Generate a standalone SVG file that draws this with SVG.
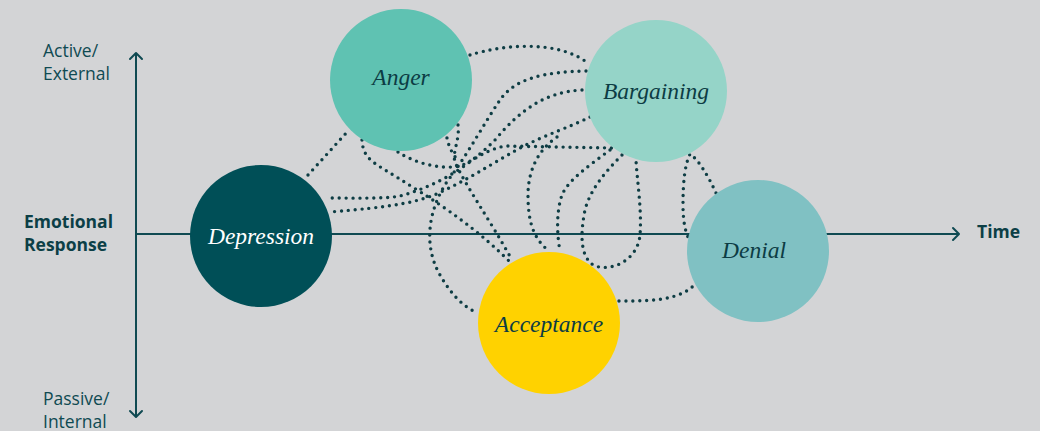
<svg xmlns="http://www.w3.org/2000/svg" width="1040" height="431" viewBox="0 0 1040 431">
  <style>
    .axis { fill: none; stroke: #0f4a52; stroke-width: 2; }
    .head { fill: none; stroke: #0f4a52; stroke-width: 2; stroke-linecap: round; stroke-linejoin: round; }
    .lbl { font-family: "Open Sans", "Liberation Sans", sans-serif; font-size: 17.5px; fill: #0f4a52; }
    .lbl-b { font-family: "Open Sans", "Liberation Sans", sans-serif; font-size: 17.5px; font-weight: 700; fill: #0c3f46; }
    .path { fill: none; stroke: #0e3d44; stroke-width: 3.4; stroke-linecap: round; stroke-dasharray: 0 6.9; }
    .name { font-family: "Liberation Serif", "DejaVu Serif", serif; font-style: italic; font-size: 23.5px; fill: #0c3c44; text-anchor: middle; }
  </style>

  <rect x="0" y="0" width="1040" height="431" fill="#d3d4d6"/>

  <!-- axes -->
  <g id="axes">
    <line class="axis" x1="136" y1="53" x2="136" y2="417"/>
    <polyline class="head" points="130,59 136,53 142,59"/>
    <polyline class="head" points="130,411 136,417 142,411"/>
    <line class="axis" x1="136" y1="234" x2="959" y2="234"/>
    <polyline class="head" points="953,228 959,234 953,240"/>
  </g>

  <g id="axis-labels">
    <text class="lbl" x="43" y="57">Active/</text>
    <text class="lbl" x="43" y="80">External</text>
    <text class="lbl-b" x="24" y="228">Emotional</text>
    <text class="lbl-b" x="24" y="251">Response</text>
    <text class="lbl" x="43" y="405">Passive/</text>
    <text class="lbl" x="43" y="428">Internal</text>
    <text class="lbl-b" x="977" y="238">Time</text>
  </g>

  <!-- dotted transitions between stages -->
  <g id="connectors">
    <path class="path" d="M470,55 C505,44 560,40 589,64"/>
    <path class="path" d="M586,71 C545,72 515,78 500,100 C485,122 470,150 452,175 C432,200 420,240 440,275 C452,296 465,308 478,313"/>
    <path class="path" d="M582,90 C545,92 520,110 495,140 C470,165 440,185 400,196 C385,199 350,198 326,198"/>
    <path class="path" d="M590,117 C570,127 545,135 520,148 C490,165 470,178 445,190 C420,203 390,207 330,212"/>
    <path class="path" d="M557,137 C535,152 528,175 528,195 C528,225 535,240 549,251"/>
    <path class="path" d="M362,140 C363,158 372,162 395,176 C430,198 470,222 510,262"/>
    <path class="path" d="M398,152 C415,163 440,170 460,166 C475,160 485,150 505,146 L613,148"/>
    <path class="path" d="M458,125 C460,140 452,152 455,162 C465,185 490,220 512,260"/>
    <path class="path" d="M446,131 C447,142 450,150 456,158"/>
    <path class="path" d="M610,150 C590,165 568,180 562,195 C556,212 557,235 560,251"/>
    <path class="path" d="M622,155 C605,172 590,190 585,210 C580,235 580,258 595,266 C615,272 638,258 640,235 C642,210 637,180 636,160"/>
    <path class="path" d="M716,193 C708,175 697,158 690,154 C685,165 683,180 683,205 C683,220 685,230 688,237"/>
    <path class="path" d="M619,301 C640,301 660,301 675,296 C685,293 692,288 696,283"/>
    <path class="path" d="M308,175 L348,131"/>
  </g>

  <g id="anger">
    <circle cx="401" cy="80" r="71" fill="#5fc2b2"/>
    <text class="name" x="401" y="85">Anger</text>
  </g>
  <g id="bargaining">
    <circle cx="656" cy="91" r="71" fill="#95d4c8"/>
    <text class="name" x="656" y="99">Bargaining</text>
  </g>
  <g id="depression">
    <circle cx="261" cy="236" r="71" fill="#004f57"/>
    <text class="name" x="261" y="244" fill="#ffffff" style="fill:#ffffff">Depression</text>
  </g>
  <g id="denial">
    <circle cx="758" cy="251" r="71" fill="#80c1c3"/>
    <text class="name" x="754" y="258">Denial</text>
  </g>
  <g id="acceptance">
    <circle cx="549" cy="323" r="71" fill="#ffd200"/>
    <text class="name" x="549" y="332">Acceptance</text>
  </g>
</svg>
